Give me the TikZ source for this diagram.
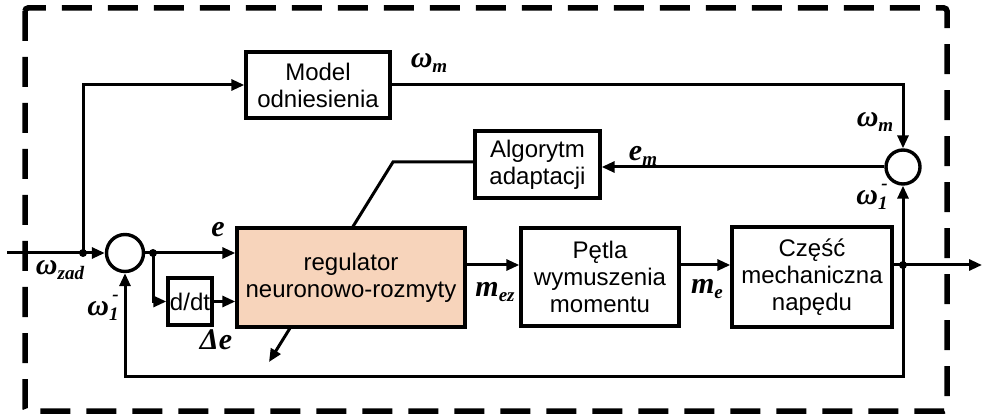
\documentclass[tikz,border=0pt]{standalone}
\usepackage{fontspec}
\setmainfont{Liberation Sans}
\newfontfamily\labfont{Liberation Serif}
\usetikzlibrary{arrows.meta}
\definecolor{regfill}{RGB}{247,212,187}
\newcommand{\lbl}[2]{{\labfont\bfseries\itshape\fontsize{30}{30}\selectfont #1\raisebox{-0.35ex}{\fontsize{19}{19}\selectfont #2}}}
\newcommand{\lblom}{{\labfont\bfseries\itshape\fontsize{30}{30}\selectfont ω\rlap{\raisebox{0.5em}{\fontsize{19}{19}\selectfont\,-}}\raisebox{-0.35ex}{\fontsize{19}{19}\selectfont 1}}}
\begin{document}
\begin{tikzpicture}[x=1pt,y=-1pt, line width=3pt,
  >={Triangle[length=13pt,width=11pt]},
  blk/.style={draw, line width=3.4pt, align=center, font=\fontsize{24}{27}\selectfont, inner sep=0pt},
  sumc/.style={draw, circle, line width=3.4pt, inner sep=0pt},
  dot/.style={circle, fill, inner sep=0pt, minimum size=8pt},
  lab/.style={inner sep=0pt}]
\useasboundingbox (0,0) rectangle (983,414);
\draw[line width=5.5pt, dash pattern=on 30pt off 16pt, rounded corners=3pt] (25,8) rectangle (947,411);

\node[blk, minimum width=144pt, minimum height=66pt] (model) at (318,85) {Model\\odniesienia};
\node[blk, minimum width=125pt, minimum height=67pt] (alg) at (537.5,164.5) {Algorytm\\adaptacji};
\node[blk, minimum width=44pt, minimum height=47pt] (ddt) at (190,301.5) {d/dt};
\node[blk, minimum width=158pt, minimum height=98pt] (petla) at (600,277) {Pętla\\wymuszenia\\momentu};
\node[blk, minimum width=160pt, minimum height=100pt] (czesc) at (812,277) {Część\\mechaniczna\\napędu};
\node[sumc, minimum size=37pt] (s1) at (125,253) {};
\node[sumc, minimum size=34pt] (s2) at (903,167) {};
\coordinate (in) at (7,253);
\node[dot] (j1) at (83,253) {};
\node[dot] (j2) at (153,253) {};
\node[dot] (j3) at (903,265) {};
\coordinate (out) at (982,265);
\coordinate (bend) at (393,162);
\coordinate (adtip) at (269,362);
\coordinate (fb) at (903,376);

\draw[->] (alg.west |- bend) -- (bend) -- (adtip);
\node[blk, fill=regfill, minimum width=228pt, minimum height=99pt] (reg) at (351,277.5) {regulator\\neuronowo-rozmyty};

\draw[->] (in) -- (s1.west);
\draw[->] (j1.center) -- (j1 |- model.west) -- (model.west);
\draw (s1.east) -- (j2.center);
\draw[->] (j2.center) -- (reg.west |- j2);
\draw[->] (j2.center) |- (ddt.west);
\draw[->] (ddt.east) -- (reg.west |- ddt.east);
\draw[->] (reg.east |- j3) -- (petla.west |- j3);
\draw[->] (petla.east |- j3) -- (czesc.west |- j3);
\draw[->] (czesc.east |- j3) -- (out);
\draw[->] (j3.center) -- (s2.south);
\draw[->] (j3.center) -- (fb) -| (s1.south);
\draw[->] (model.east) -| (s2.north);
\draw[->] (s2.west) -- (alg.east |- s2.west);

\node[lab] (lwm1) at (429,63) {\lbl{ω}{m}};
\node[lab] (lwm2) at (875,122) {\lbl{ω}{m}};
\node[lab] (lw1r) at (872,197) {\lblom};
\node[lab] (lem) at (643,156) {\lbl{e}{m}};
\node[lab] (le) at (218,232) {\lbl{e}{}};
\node[lab] (lde) at (216,342) {\lbl{Δe}{}};
\node[lab] (lzad) at (60,270) {\lbl{ω}{zad}};
\node[lab] (lw1l) at (103,308) {\lblom};
\node[lab] (lmez) at (495,292) {\lbl{m}{ez}};
\node[lab] (lme) at (707,289) {\lbl{m}{e}};
\end{tikzpicture}
\end{document}
